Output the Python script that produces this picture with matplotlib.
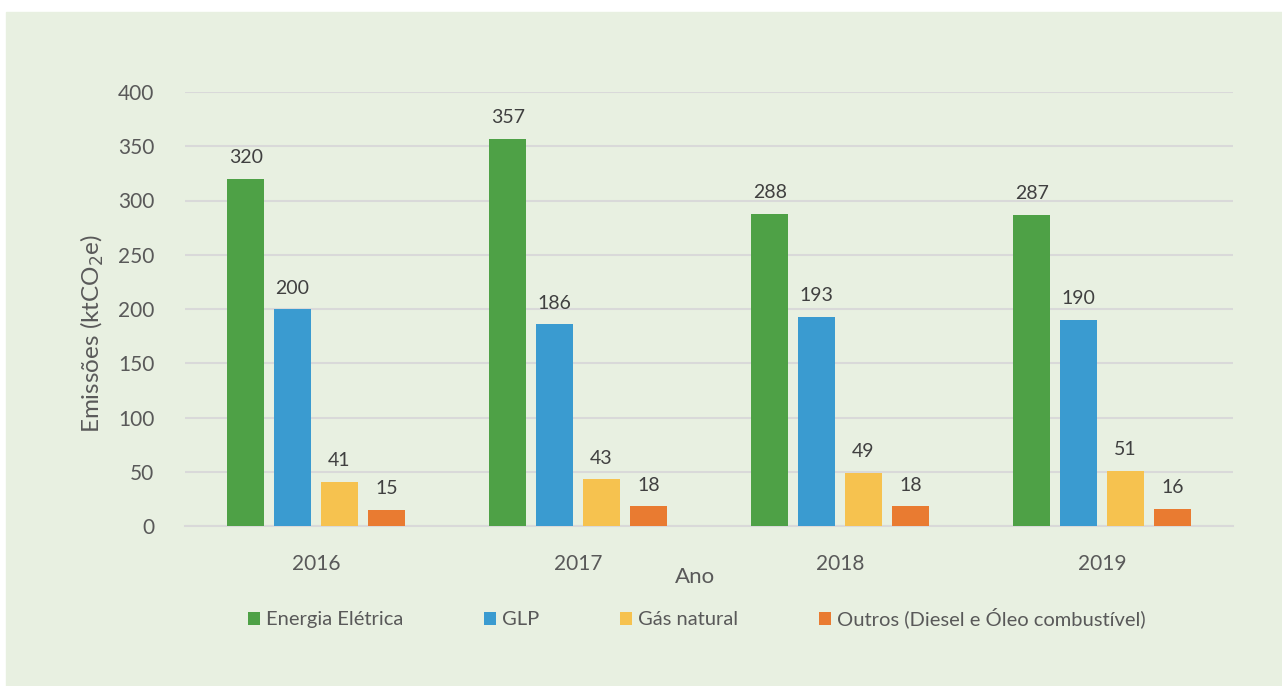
import numpy as np
import matplotlib.pyplot as plt
from matplotlib.patches import Rectangle, Patch

plt.rcParams['font.family'] = ['Lato', 'DejaVu Sans']

anos = ["2016", "2017", "2018", "2019"]
series = ["Energia Elétrica", "GLP", "Gás natural", "Outros (Diesel e Óleo combustível)"]
energia = [320, 357, 288, 287]
glp = [200, 186, 193, 190]
gas = [41, 43, 49, 51]
outros = [15, 18, 18, 16]
cores = ["#4EA146", "#3A9BD0", "#F6C24F", "#E97B31"]

TXT = "#595959"
BG = "#E8F0E1"

fig = plt.figure(figsize=(12.82, 6.86), dpi=100)
fig.patches.append(Rectangle((6 / 1282, 0), 1, (686 - 12) / 686,
                             transform=fig.transFigure, color=BG, zorder=-10))

ax = fig.add_axes([185 / 1282, 1 - 526 / 686, (1233 - 185) / 1282, (526 - 92) / 686])
ax.set_facecolor("none")

x = np.arange(len(anos))
largura = 0.141
passo = 0.179
for i, (vals, cor) in enumerate(zip([energia, glp, gas, outros], cores)):
    barras = ax.bar(x + (i - 1.5) * passo, vals, width=largura, color=cor, zorder=3)
    ax.bar_label(barras, labels=[str(v) for v in vals], padding=9,
                 fontsize=14, color="#404040")

ax.set_xlim(-0.5, 3.5)
ax.set_ylim(0, 400)
ax.set_yticks(range(0, 401, 50))
ax.set_xticks(x)
ax.set_xticklabels(anos)
ax.grid(axis="y", color="#D9D9D9", linewidth=1.5, zorder=0)
ax.tick_params(axis="both", length=0, labelsize=15, colors=TXT)
ax.tick_params(axis="x", pad=20)
ax.tick_params(axis="y", pad=22)
for s in ["top", "right", "left"]:
    ax.spines[s].set_visible(False)
ax.spines["bottom"].set_color("#D9D9D9")
ax.spines["bottom"].set_linewidth(1.5)

# axis titles placed like the original (not exactly centred on the axes)
fig.text(695 / 1282, 1 - 577 / 686, "Ano", fontsize=16, color=TXT, ha="center", va="center")
fig.text(92 / 1282, 1 - 333 / 686, "Emissões (ktCO$_2$e)", fontsize=17.5, color=TXT,
         rotation=90, ha="center", va="center")

handles = [Patch(facecolor=c) for c in cores]
fig.legend(handles, series, loc="center", bbox_to_anchor=(697 / 1282, 1 - 618 / 686),
           ncol=4, frameon=False, fontsize=14.5, labelcolor=TXT,
           handlelength=0.6, handleheight=0.6, handletextpad=0.3, columnspacing=4.0)

fig.savefig("out.png", dpi=100)
